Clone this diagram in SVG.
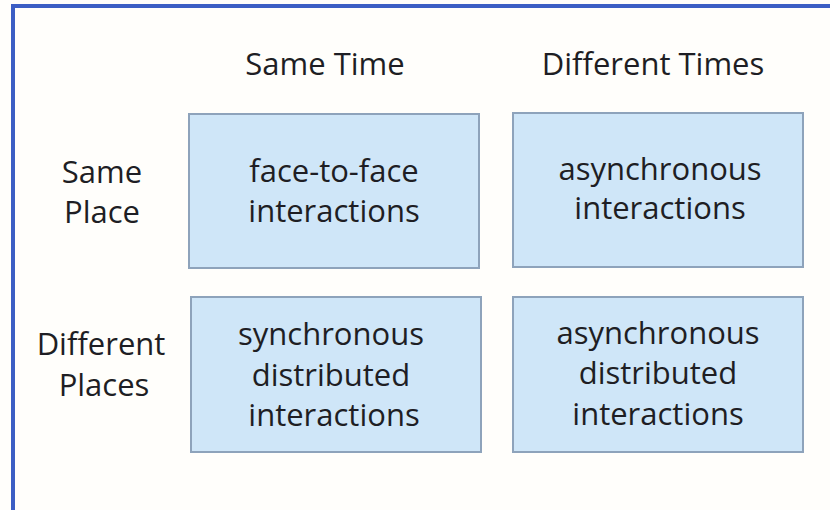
<svg xmlns="http://www.w3.org/2000/svg" width="830" height="510" viewBox="0 0 830 510">
<style>
.t{font-family:"Open Sans","Noto Sans",sans-serif;font-size:31px;fill:#1e1e24;text-anchor:middle}
.box{fill:#cfe6f8;stroke:#8ea3bb;stroke-width:2}
</style>
<rect x="0" y="0" width="830" height="510" fill="#fffefb"/>
<path d="M13,512 V6 H832" fill="none" stroke="#3c5ec4" stroke-width="4"/>
<g id="hdr-same-time"><text class="t" x="325" y="75" font-size="32">Same Time</text></g>
<g id="hdr-diff-times"><text class="t" x="653" y="75" font-size="32">Different Times</text></g>
<g id="row-same-place"><text class="t" x="102" y="183">Same</text><text class="t" x="102" y="223">Place</text></g>
<g id="row-diff-places"><text class="t" x="101" y="355">Different</text><text class="t" x="104" y="396">Places</text></g>
<g id="n-face"><rect class="box" x="189" y="114" width="290" height="154"/><text class="t" x="334" y="182">face-to-face</text><text class="t" x="334" y="222">interactions</text></g>
<g id="n-async"><rect class="box" x="513" y="113" width="290" height="154"/><text class="t" x="660" y="180">asynchronous</text><text class="t" x="660" y="219">interactions</text></g>
<g id="n-sync-dist"><rect class="box" x="191" y="297" width="290" height="155"/><text class="t" x="331" y="345">synchronous</text><text class="t" x="331" y="386">distributed</text><text class="t" x="334" y="426">interactions</text></g>
<g id="n-async-dist"><rect class="box" x="513" y="297" width="290" height="155"/><text class="t" x="658" y="344">asynchronous</text><text class="t" x="658" y="384">distributed</text><text class="t" x="658" y="425">interactions</text></g>
<g id="connectors"></g>
</svg>
